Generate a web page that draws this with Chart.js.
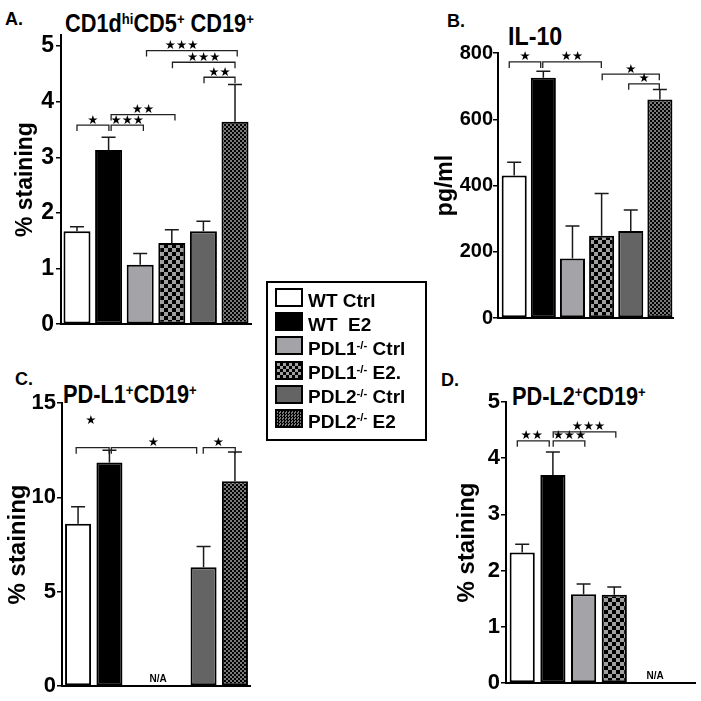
<!DOCTYPE html>
<html>
<head>
<meta charset="utf-8">
<script src="https://cdn.jsdelivr.net/npm/chart.js@4.4.0/dist/chart.umd.min.js"></script>
<style>
body{margin:0;background:#fff;width:701px;height:701px;position:relative;overflow:hidden;font-family:"Liberation Sans",Arial,sans-serif;color:#000}
canvas{position:absolute}
.txt{position:absolute;font-weight:bold;white-space:pre;line-height:1}
.title{font-size:25px;transform:scaleX(0.87);transform-origin:0 0}
.letter{font-size:18px}
sup{font-size:.6em;vertical-align:baseline;position:relative;top:-.55em}
#legend{position:absolute;left:266px;top:281px;width:161px;height:160px;border:2px solid #000;box-sizing:border-box}
.sw{position:absolute;left:275px;width:28px;height:19px;border:2px solid #000;box-sizing:border-box}
.lt{position:absolute;left:308px;font-size:19px;font-weight:bold;white-space:pre;line-height:1}
</style>
</head>
<body>
<div class="txt letter" style="left:5px;top:10px">A.</div>
<div class="txt letter" style="left:447px;top:12px">B.</div>
<div class="txt letter" style="left:15px;top:370px">C.</div>
<div class="txt letter" style="left:441px;top:371px">D.</div>
<div class="txt title" style="left:65px;top:11px">CD1d<sup>hi</sup>CD5<sup>+</sup> CD19<sup>+</sup></div>
<div class="txt title" style="left:508px;top:24px;transform:scaleX(0.93)">IL-10</div>
<div class="txt title" style="left:63px;top:382px">PD-L1<sup>+</sup>CD19<sup>+</sup></div>
<div class="txt title" style="left:512px;top:384px">PD-L2<sup>+</sup>CD19<sup>+</sup></div>

<canvas id="cA" width="260" height="340" style="left:0;top:0"></canvas>
<canvas id="cB" width="256" height="340" style="left:434px;top:0"></canvas>
<canvas id="cC" width="260" height="341" style="left:0;top:360px"></canvas>
<canvas id="cD" width="281" height="331" style="left:420px;top:370px"></canvas>
<div id="legend"></div>
<div id="legendRows"></div>

<script>
const FONT = '"Liberation Sans", Arial, sans-serif';

// groups (legend order)
const groups = ['WT Ctrl', 'WT  E2', 'PDL1<sup>-/-</sup> Ctrl', 'PDL1<sup>-/-</sup> E2.', 'PDL2<sup>-/-</sup> Ctrl', 'PDL2<sup>-/-</sup> E2'];

// A. CD1d hi CD5+ CD19+ (% staining)
const cd1dMean = [1.67, 3.13, 1.07, 1.46, 1.67, 3.64];
const cd1dErr  = [0.08, 0.23, 0.20, 0.24, 0.18, 0.67];
// B. IL-10 (pg/ml)
const il10Mean = [430, 725, 180, 248, 263, 660];
const il10Err  = [40, 20, 98, 128, 63, 30];
// C. PD-L1+ CD19+ (% staining), PDL1-/- not applicable
const pdl1Mean = [8.6, 11.85, null, null, 6.3, 10.85];
const pdl1Err  = [0.9, 0.65, null, null, 1.1, 1.55];
// D. PD-L2+ CD19+ (% staining), PDL2-/- not applicable
const pdl2Mean = [2.32, 3.70, 1.58, 1.57, null, null];
const pdl2Err  = [0.15, 0.41, 0.18, 0.14, null, null];

// significance brackets: [from group, to group, y, stars, starX?, starY?]
const cd1dSig = [
  [0.0, 1.01, 3.58, '★'],
  [1.08, 2.1, 3.58, '★★★'],
  [1.08, 3.1, 3.77, '★★'],
  [4.02, 5.0, 4.44, '★★'],
  [3.02, 5.0, 4.71, '★★★'],
  [2.2, 5.07, 4.92, '★★★', 3.31]
];
const il10Sig = [
  [-0.17, 0.91, 773, '★'],
  [0.98, 2.99, 773, '★★'],
  [3.02, 4.98, 736, '★'],
  [3.93, 4.98, 707, '★']
];
const pdl1Sig = [
  [-0.06, 0.99, 12.63, '★', 0.41, 13.9],
  [1.06, 3.78, 12.63, '★', 2.4],
  [3.99, 5.01, 12.63, '★', 4.47]
];
const pdl2Sig = [
  [-0.16, 0.88, 4.31, '★★', 0.31],
  [1.01, 2.04, 4.31, '★★★', 1.54],
  [1.01, 3.05, 4.47, '★★★', 2.16]
];

function checker(ctx, size, dark, light) {
  const t = document.createElement('canvas');
  t.width = t.height = size * 2;
  const c = t.getContext('2d');
  c.fillStyle = light; c.fillRect(0, 0, size * 2, size * 2);
  c.fillStyle = dark; c.fillRect(0, 0, size, size); c.fillRect(size, size, size, size);
  return ctx.createPattern(t, 'repeat');
}

function fills(ctx) {
  return ['#ffffff', '#000000', '#a4a4a8', checker(ctx, 4, '#000', '#a0a0a0'), '#646464', checker(ctx, 2, '#000', '#7a7a7a')];
}

function panel(id, mean, err, sig, o) {
  const canvas = document.getElementById(id);
  const ctx = canvas.getContext('2d');
  const cols = fills(ctx);
  const pts = [], bg = [];
  mean.forEach((v, i) => { if (v != null) { pts.push({x: i, y: v}); bg.push(cols[i]); } });

  const extras = {
    id: 'extras',
    afterDatasetsDraw(chart) {
      const {ctx, scales: {x, y}} = chart;
      ctx.save();
      // error bars
      ctx.strokeStyle = '#1a1a1a'; ctx.lineWidth = 1.5;
      mean.forEach((m, i) => {
        if (m == null || err[i] == null) return;
        const px = x.getPixelForValue(i);
        const top = y.getPixelForValue(m + err[i]);
        ctx.beginPath();
        ctx.moveTo(px, y.getPixelForValue(m)); ctx.lineTo(px, top);
        ctx.moveTo(px - 7, top); ctx.lineTo(px + 7, top);
        ctx.stroke();
      });
      // brackets
      ctx.strokeStyle = '#222'; ctx.lineWidth = 1.3;
      ctx.fillStyle = '#000';
      ctx.font = '12.5px "DejaVu Sans"';
      ctx.textAlign = 'center'; ctx.textBaseline = 'alphabetic';
      sig.forEach(([a, b, v, s, sx, sy]) => {
        const x1 = x.getPixelForValue(a), x2 = x.getPixelForValue(b), py = y.getPixelForValue(v);
        ctx.beginPath();
        ctx.moveTo(x1, py + 6); ctx.lineTo(x1, py); ctx.lineTo(x2, py); ctx.lineTo(x2, py + 6);
        ctx.stroke();
        const tx = x.getPixelForValue(sx == null ? (a + b) / 2 : sx);
        const ty = sy == null ? py - 1.5 : y.getPixelForValue(sy);
        ctx.fillText(s, tx, ty);
      });
      if (o.na != null) {
        ctx.font = 'bold 10px ' + FONT;
        ctx.fillText('N/A', x.getPixelForValue(o.na), y.getPixelForValue(0) - 4);
      }
      ctx.restore();
    }
  };

  return new Chart(ctx, {
    type: 'bar',
    data: {
      datasets: [{
        data: pts,
        backgroundColor: bg,
        borderColor: '#000',
        borderWidth: 2,
        borderSkipped: false,
        barPercentage: o.barPct,
        categoryPercentage: 1
      }]
    },
    options: {
      responsive: false,
      animation: false,
      layout: {padding: {left: 0, top: o.top, right: o.right, bottom: o.bottom}},
      plugins: {legend: {display: false}, tooltip: {enabled: false}},
      scales: {
        x: {
          type: 'linear', min: o.xMin, max: o.xMax, offset: false,
          grid: {display: false},
          border: {display: true, color: '#000', width: 2},
          ticks: {display: false, stepSize: 1, includeBounds: false},
          afterFit: s => { s.height = 0; }
        },
        y: {
          min: 0, max: o.yMax,
          border: {display: true, color: '#000', width: 2},
          grid: {drawOnChartArea: false, drawTicks: true, tickLength: 5, color: '#000', lineWidth: 1.5},
          ticks: {stepSize: o.step, includeBounds: false, color: '#000', padding: o.tickPad,
                  font: {family: FONT, size: o.tickSize, weight: 'bold'}},
          title: {display: true, text: o.yTitle, color: '#000',
                  font: {family: FONT, size: o.titleSize, weight: 'bold', lineHeight: o.titleLH},
                  padding: {top: o.titlePad, bottom: 0}},
          afterFit: s => { s.width = o.yWidth; }
        }
      }
    },
    plugins: [extras]
  });
}

panel('cA', cd1dMean, cd1dErr, cd1dSig, {
  top: 35, right: 9, bottom: 14, yWidth: 61, xMin: -0.506, xMax: 5.506, barPct: 0.855,
  yMax: 5.2, step: 1, tickSize: 23, tickPad: 2,
  yTitle: '% staining', titleSize: 23, titleLH: 1.2, titlePad: 12
});
panel('cB', il10Mean, il10Err, il10Sig, {
  top: 53, right: 17, bottom: 22, yWidth: 64, xMin: -0.556, xMax: 5.45, barPct: 0.86,
  yMax: 800, step: 200, tickSize: 20, tickPad: 0,
  yTitle: 'pg/ml', titleSize: 23, titleLH: 1, titlePad: 0
});
panel('cC', pdl1Mean, pdl1Err, pdl1Sig, {
  top: 43, right: 10, bottom: 15, yWidth: 62, xMin: -0.512, xMax: 5.48, barPct: 0.83,
  yMax: 15, step: 5, tickSize: 22, tickPad: 1,
  yTitle: '% staining', titleSize: 24, titleLH: 1.2, titlePad: 4, na: 2.55
});
panel('cD', pdl2Mean, pdl2Err, pdl2Sig, {
  top: 32, right: 6, bottom: 18, yWidth: 86, xMin: -0.528, xMax: 5.63, barPct: 0.82,
  yMax: 5, step: 1, tickSize: 22, tickPad: 1,
  yTitle: '% staining', titleSize: 24, titleLH: 1.2, titlePad: 33, na: 4.33
});

// legend
const swatchBg = [
  '#ffffff', '#000000', '#a4a4a8',
  'repeating-conic-gradient(#000 0 25%, #a0a0a0 0 50%) 0 0/6px 6px',
  '#646464',
  'repeating-conic-gradient(#000 0 25%, #7a7a7a 0 50%) 0 0/3px 3px'
];
const rows = document.getElementById('legendRows');
groups.forEach((g, i) => {
  const sw = document.createElement('div');
  sw.className = 'sw';
  sw.style.top = (288 + i * 24.2) + 'px';
  sw.style.background = swatchBg[i];
  rows.appendChild(sw);
  const t = document.createElement('div');
  t.className = 'lt';
  t.style.top = (306.7 + i * 24.2 - 16.1) + 'px';
  t.innerHTML = g;
  rows.appendChild(t);
});
</script>
</body>
</html>
